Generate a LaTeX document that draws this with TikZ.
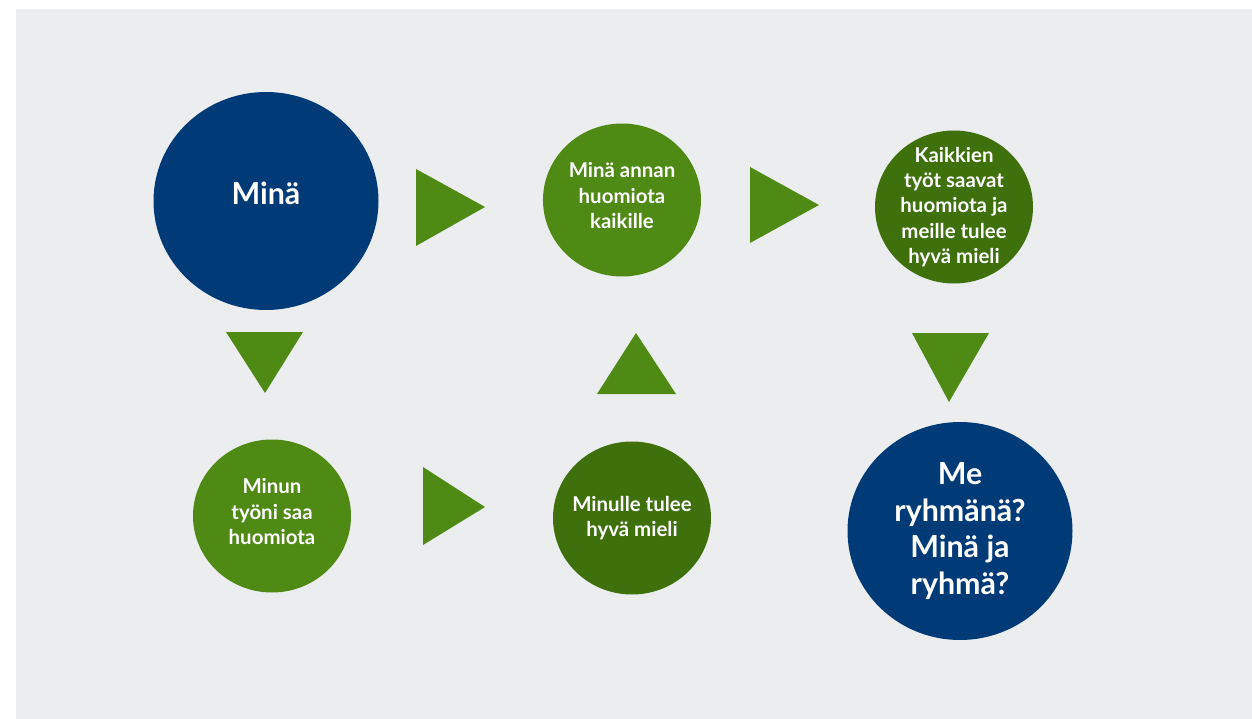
\documentclass[tikz,border=0pt]{standalone}
\usepackage{fontspec}
\setmainfont{Lato}
\usetikzlibrary{shapes.geometric}

\definecolor{paper}{HTML}{ECEDEF}
\definecolor{ryhmablue}{HTML}{003B77}
\definecolor{lightgreen}{HTML}{4F8A14}
\definecolor{darkgreen}{HTML}{3E700C}

% extra depth below the last line, lifts the text a little
\newcommand\sinkline[1]{\rule[-#1]{0pt}{0pt}}

\tikzset{
  bubble/.style={ellipse, inner sep=-25bp, text=white, align=center,
    minimum width=158bp, minimum height=153bp,
    font=\bfseries\fontsize{20.5}{25.5}\selectfont},
  bigbubble/.style={bubble, minimum width=225bp, minimum height=218bp,
    font=\bfseries\fontsize{30.5}{37}\selectfont},
  pointer/.style={fill=lightgreen}
}

\begin{document}
\begin{tikzpicture}[x=1bp, y=-1bp]
    \useasboundingbox (0,0) rectangle (1252,719);
    \fill[paper] (16,9) rectangle (1252,719);

    % Circles
    \node[bigbubble, fill=ryhmablue] (mina) at (266,201) {\raisebox{16bp}{Minä}};
    \node[bubble, fill=lightgreen] (annan) at (622,200) {Minä annan\\huomiota\\kaikille\sinkline{9bp}};
    \node[bubble, fill=darkgreen] (kaikki) at (954,207) {Kaikkien\\työt saavat\\huomiota ja\\meille tulee\\hyvä mieli};
    \node[bubble, fill=lightgreen] (tyoni) at (272,516) {Minun\\työni saa\\huomiota\sinkline{9bp}};
    \node[bubble, fill=darkgreen] (mieli) at (632,518) {Minulle tulee\\hyvä mieli};
    \node[bigbubble, fill=ryhmablue] (me) at (960,531) {Me\\ryhmänä?\\Minä ja\\ryhmä?};

    % Triangles pointing right
    \fill[pointer] (416,169) -- (485,207) -- (416,246) -- cycle;
    \fill[pointer] (750,167) -- (819,205) -- (750,243) -- cycle;
    \fill[pointer] (423,467) -- (485,507) -- (423,545) -- cycle;

    % Triangles pointing down / up
    \fill[pointer] (226,332) -- (303,332) -- (265,393) -- cycle;
    \fill[pointer] (912,333) -- (989,333) -- (949,402) -- cycle;
    \fill[pointer] (597,394) -- (676,394) -- (636,333) -- cycle;
\end{tikzpicture}
\end{document}
